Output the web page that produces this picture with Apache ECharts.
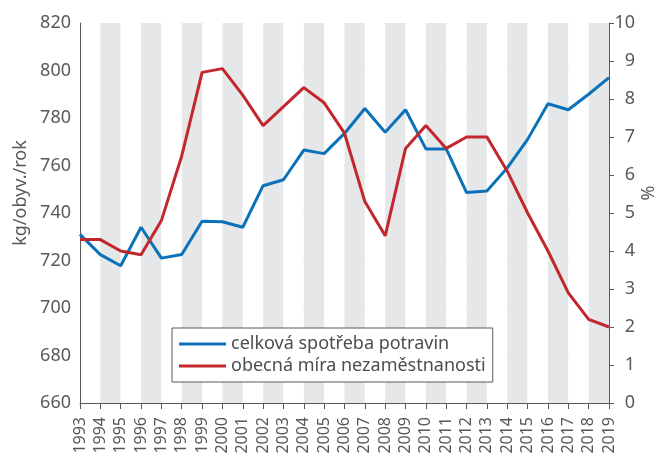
<!DOCTYPE html>
<html>
<head>
<meta charset="utf-8">
<script src="https://cdn.jsdelivr.net/npm/echarts@6/dist/echarts.min.js"></script>
<style>
html,body{margin:0;padding:0;background:#fff;}
#main{width:654px;height:455px;}
</style>
</head>
<body>
<div id="main"></div>
<script>
// roky
var years = ['1993','1994','1995','1996','1997','1998','1999','2000','2001','2002','2003','2004','2005','2006',
  '2007','2008','2009','2010','2011','2012','2013','2014','2015','2016','2017','2018','2019'];
// kg/obyv./rok
var spotreba = [731, 722.5, 717.8, 734, 721, 722.5, 736.5, 736.3, 734, 751.5, 754, 766.5, 765, 773.5,
  784, 774, 783.5, 767, 767, 748.6, 749.3, 759, 771, 786, 783.5, 790, 797];
// %
var nezamestnanost = [4.3, 4.3, 4.0, 3.9, 4.8, 6.5, 8.7, 8.8, 8.1, 7.3, 7.8, 8.3, 7.9, 7.1,
  5.3, 4.4, 6.7, 7.3, 6.7, 7.0, 7.0, 6.1, 5.0, 4.0, 2.9, 2.2, 2.0];
var seriesNames = ['celková spotřeba potravin', 'obecná míra nezaměstnanosti'];

var axisColor = '#595959';
var textColor = '#58595b';
var font = 'Noto Sans';

var myChart = echarts.init(document.getElementById('main'));
myChart.setOption({
  animation: false,
  textStyle: {fontFamily: font},
  grid: {left: 80, right: 45, top: 23, bottom: 52, outerBoundsMode: 'none', containLabel: false},
  legend: {
    left: 172, top: 328,
    orient: 'vertical',
    backgroundColor: '#fff',
    borderColor: axisColor,
    borderWidth: 1,
    padding: [7, 7, 7, 7],
    itemGap: 4,
    itemWidth: 47,
    itemHeight: 3,
    icon: 'rect',
    textStyle: {fontSize: 18, color: '#4d4d4f', fontFamily: font},
    data: seriesNames
  },
  xAxis: {
    type: 'category',
    data: years,
    boundaryGap: false,
    axisLine: {lineStyle: {color: axisColor, width: 1}},
    axisTick: {show: true, length: 6, lineStyle: {color: axisColor}},
    axisLabel: {rotate: 90, interval: 0, fontSize: 16, color: textColor, margin: 14, fontFamily: font},
    splitLine: {show: false},
    splitArea: {show: true, areaStyle: {color: ['#ffffff', '#e6e7e8']}}
  },
  yAxis: [
    {
      type: 'value',
      min: 660, max: 820, interval: 20,
      name: 'kg/obyv./rok',
      nameLocation: 'middle',
      nameGap: 50,
      nameMoveOverlap: false,
      nameTextStyle: {fontSize: 18, color: textColor, fontFamily: font, padding: [0, 0, 0, 40]},
      axisLine: {show: true, lineStyle: {color: axisColor}},
      axisTick: {show: false},
      axisLabel: {fontSize: 18, color: textColor, margin: 9, fontFamily: font},
      splitLine: {show: true, lineStyle: {color: '#a7a9ac', type: [3, 3], width: 1}}
    },
    {
      type: 'value',
      min: 0, max: 10, interval: 1,
      name: '%',
      nameLocation: 'middle',
      nameGap: 31,
      nameMoveOverlap: false,
      nameTextStyle: {fontSize: 18, color: textColor, fontFamily: font, padding: [0, 0, 0, 40]},
      axisLine: {show: true, lineStyle: {color: axisColor}},
      axisTick: {show: true, length: 5, lineStyle: {color: axisColor}},
      axisLabel: {fontSize: 18, color: textColor, margin: 26, align: 'right', fontFamily: font},
      splitLine: {show: false}
    }
  ],
  series: [
    {
      name: seriesNames[0],
      type: 'line',
      data: spotreba,
      yAxisIndex: 0,
      symbol: 'none',
      color: '#0b72b9',
      lineStyle: {width: 3, color: '#0b72b9'}
    },
    {
      name: seriesNames[1],
      type: 'line',
      data: nezamestnanost,
      yAxisIndex: 1,
      symbol: 'none',
      color: '#c1272d',
      lineStyle: {width: 3, color: '#c1272d'}
    }
  ]
});
</script>
</body>
</html>
